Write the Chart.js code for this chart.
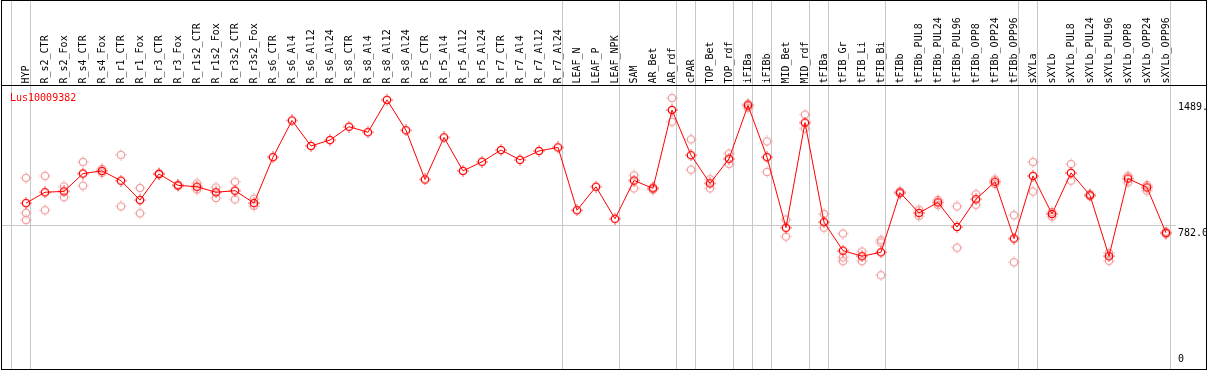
<!DOCTYPE html>
<html>
<head>
<meta charset="utf-8">
<script src="https://cdn.jsdelivr.net/npm/chart.js@4/dist/chart.umd.min.js"></script>
<style>
html,body{margin:0;padding:0;background:#fff;}
#wrap{width:1209px;height:370px;position:relative;}
</style>
</head>
<body>
<div id="wrap"><canvas id="c" width="1209" height="370"></canvas></div>
<script>
const categories = ["HYP","R_s2_CTR","R_s2_Fox","R_s4_CTR","R_s4_Fox","R_r1_CTR","R_r1_Fox","R_r3_CTR","R_r3_Fox","R_r1s2_CTR","R_r1s2_Fox","R_r3s2_CTR","R_r3s2_Fox","R_s6_CTR","R_s6_Al4","R_s6_Al12","R_s6_Al24","R_s8_CTR","R_s8_Al4","R_s8_Al12","R_s8_Al24","R_r5_CTR","R_r5_Al4","R_r5_Al12","R_r5_Al24","R_r7_CTR","R_r7_Al4","R_r7_Al12","R_r7_Al24","LEAF_N","LEAF_P","LEAF_NPK","SAM","AR_Bet","AR_rdf","cPAR","TOP_Bet","TOP_rdf","iFIBa","iFIBb","MID_Bet","MID_rdf","tFIBa","tFIB_Gr","tFIB_Li","tFIB_Bi","tFIBb","tFIBb_PUL8","tFIBb_PUL24","tFIBb_PUL96","tFIBb_OPP8","tFIBb_OPP24","tFIBb_OPP96","sXYLa","sXYLb","sXYLb_PUL8","sXYLb_PUL24","sXYLb_PUL96","sXYLb_OPP8","sXYLb_OPP24","sXYLb_OPP96"];

const meanValues = [909,970,975,1075,1090,1035,926,1073,1009,1001,
  970,979,909,1167,1373,1230,1263,1338,1307,1489,
  1318,1042,1278,1090,1141,1207,1152,1202,1222,869,
  1001,821,1036,992,1432,1178,1020,1158,1458,1167,
  771,1361,802,642,611,633,968,854,913,775,
  931,1029,710,1062,848,1079,953,611,1047,997,
  742];

const rep1 = [1051,1062,1003,1140,1102,1180,994,1076,1012,1020,
  997,1029,933,null,null,null,null,null,null,null,
  null,null,null,null,null,null,null,null,null,null,
  null,null,1065,998,1499,1267,1043,1187,1467,1256,
  817,1406,848,738,637,701,975,872,927,891,
  959,1042,841,1140,859,1128,959,629,1062,1010,
  749];

const rep2 = [854,869,942,1007,1080,891,852,1070,1005,985,
  938,930,893,null,null,null,null,null,null,null,
  null,null,null,null,null,null,null,null,null,null,
  null,null,992,985,1366,1097,992,1129,1444,1084,
  721,1328,771,605,583,688,962,836,898,659,
  900,1016,577,974,833,1035,948,585,1025,979,
  735];

const rep3 = [814,null,null,null,null,null,null,null,null,null,
  null,null,null,null,null,null,null,null,null,null,
  null,null,null,null,null,null,null,null,null,null,
  null,null,null,null,null,null,null,null,null,null,
  null,null,null,583,null,504,null,null,null,null,
  null,null,null,null,null,null,null,null,null,null,
  null];

const yTickValues = [0, 782, 1489];
const yTickLabels = ["0", "782.0", "1489."];
const groupEnds = [-1, 0, 28, 31, 34, 35, 37, 38, 39, 41, 42, 45, 52, 53, 60];
const geneName = "Lus10009382";

const MONO = "'DejaVu Sans Mono', 'Liberation Mono', monospace";

function makeMarker(color) {
  const c = document.createElement('canvas');
  c.width = 12; c.height = 12;
  const g = c.getContext('2d');
  g.strokeStyle = color;
  g.lineWidth = 1.3;
  g.beginPath(); g.arc(6, 6, 3.7, 0, 2 * Math.PI); g.stroke();
  g.fillStyle = color;
  g.fillRect(5.5, 0.3, 1, 1.2);
  g.fillRect(5.5, 10.5, 1, 1.2);
  g.fillRect(0.3, 5.5, 1.2, 1);
  g.fillRect(10.5, 5.5, 1.2, 1);
  return c;
}
const meanMarker = makeMarker('#ff0000');
const repMarker = makeMarker('#f0a0a0');

const decor = {
  id: 'decor',
  beforeDraw(chart) {
    const ctx = chart.ctx;
    const xs = chart.scales.x, ys = chart.scales.y;
    ctx.save();
    ctx.fillStyle = '#ffffff';
    ctx.fillRect(0, 0, chart.width, chart.height);
    ctx.strokeStyle = '#c8c8c8';
    ctx.lineWidth = 1;
    const step = xs.getPixelForValue(1) - xs.getPixelForValue(0);
    groupEnds.forEach(i => {
      const px = xs.getPixelForValue(0) + i * step + 4;
      const x = Math.round(px) + 0.5;
      ctx.beginPath(); ctx.moveTo(x, 0); ctx.lineTo(x, 369); ctx.stroke();
    });
    const yl = Math.floor(ys.getPixelForValue(782)) + 0.5;
    ctx.beginPath(); ctx.moveTo(1, yl); ctx.lineTo(chart.chartArea.right + 0.5, yl); ctx.stroke();
    ctx.restore();
  },
  afterDraw(chart) {
    const ctx = chart.ctx;
    const ys = chart.scales.y;
    const area = chart.chartArea;
    ctx.save();
    ctx.strokeStyle = '#000000';
    ctx.lineWidth = 1;
    ctx.strokeRect(1.5, 0.5, 1205, 369);
    ctx.beginPath(); ctx.moveTo(1, 85.5); ctx.lineTo(1207, 85.5); ctx.stroke();
    ctx.font = '10px ' + MONO;
    ctx.fillStyle = '#ff0000';
    ctx.textBaseline = 'middle';
    ctx.textAlign = 'left';
    ctx.fillText(geneName, 10, 98);
    ctx.beginPath(); ctx.rect(2, 86, 1204, 283); ctx.clip();
    ctx.fillStyle = '#000000';
    yTickValues.forEach((v, k) => {
      let y = ys.getPixelForValue(v) + 7.5;
      if (y > area.bottom - 6) y = area.bottom - 6;
      ctx.fillText(yTickLabels[k], area.right + 2.5, y);
    });
    ctx.restore();
  }
};

new Chart(document.getElementById('c'), {
  type: 'line',
  data: {
    labels: categories,
    datasets: [
      { data: meanValues, borderColor: '#ff0000', borderWidth: 1, pointStyle: meanMarker, tension: 0, order: 0, clip: false },
      { data: rep1, showLine: false, pointStyle: repMarker, order: 1, clip: false },
      { data: rep2, showLine: false, pointStyle: repMarker, order: 2, clip: false },
      { data: rep3, showLine: false, pointStyle: repMarker, order: 3, clip: false }
    ]
  },
  options: {
    responsive: false,
    animation: false,
    devicePixelRatio: 1,
    layout: { padding: { left: 16.5, right: 33.5, top: 0, bottom: 0.5 } },
    plugins: { legend: { display: false }, tooltip: { enabled: false }, title: { display: false } },
    scales: {
      x: {
        type: 'category',
        position: 'top',
        offset: true,
        grid: { display: false, drawTicks: false },
        border: { display: false },
        ticks: {
          autoSkip: false, maxRotation: 90, minRotation: 90, padding: 2, labelOffset: 12,
          color: '#000000', font: { family: MONO, size: 10 }
        },
        afterFit(scale) { scale.height = 85.5; }
      },
      y: {
        display: false,
        min: 0,
        max: 1569.5
      }
    }
  },
  plugins: [decor]
});
</script>
</body>
</html>
